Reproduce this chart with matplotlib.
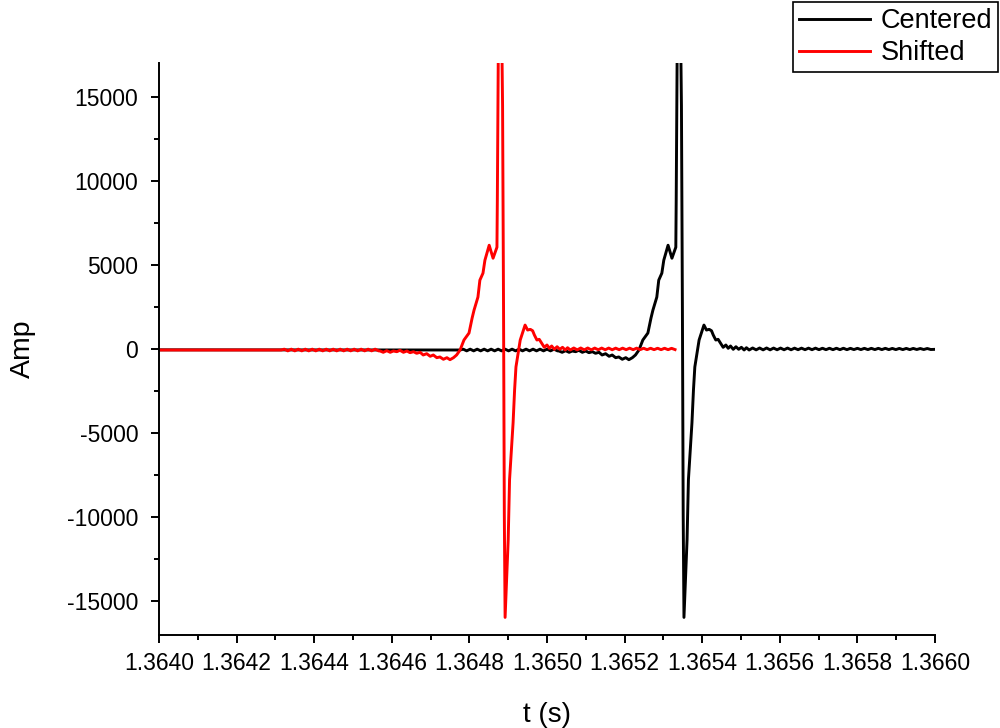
import numpy as np
import matplotlib.pyplot as plt
from matplotlib.ticker import MultipleLocator, FormatStrFormatter

plt.rcParams['font.family'] = ['Liberation Sans', 'DejaVu Sans']
plt.rcParams['axes.unicode_minus'] = False

# time offsets in microseconds from t0, amplitude in counts
t0 = 1.3640
centered_t_us = [
    0, 461, 776,
    784, 793, 802, 811, 820, 829, 838, 847, 856, 865, 874, 883, 892, 901,
    910, 919, 928, 937, 946, 955, 964, 973, 982, 991, 1000, 1009, 1018, 1027,
    1031, 1039, 1048, 1057, 1065, 1074, 1082, 1091, 1100, 1108, 1117, 1125,
    1134, 1142, 1151, 1160, 1168, 1177, 1185, 1194, 1203, 1211, 1220, 1228,
    1237, 1247, 1260, 1268, 1273, 1283, 1288, 1296, 1301, 1312, 1322, 1332,
    1333, 1335, 1336, 1344, 1346.5, 1349, 1351, 1353, 1361, 1364.5, 1373.6,
    1377.5, 1381, 1392, 1404.5, 1411, 1418, 1424, 1428.5, 1435, 1441, 1447.5,
    1454, 1461, 1467, 1473, 1480, 1487, 1494, 1501, 1508, 1514, 1521,
    1530, 1539, 1548, 1557, 1566, 1575, 1584, 1593, 1602, 1611, 1620, 1629,
    1638, 1647, 1656, 1665, 1674, 1683, 1692, 1701, 1710, 1719, 1728, 1737,
    1746, 1755, 1764, 1773, 1782, 1791, 1800, 1809, 1818, 1827, 1836, 1845,
    1854, 1863, 1872, 1881, 1890, 1899, 1908, 1917, 1926, 1935, 1944, 1953,
    1962, 1971, 1980, 1989, 2000,
]
centered_amp = [
    -50, -59, -59,
    -10, -110, -10, -110, -10, -110, -10, -110, -10, -110, -10, -110, -10, -110,
    -10, -110, -10, -110, -10, -110, -10, -110, -10, -110, -10, -110, -10, -110,
    -119, -196, -101, -196, -119, -160, -77, -196, -119, -219, -160, -255,
    -196, -356, -279, -433, -356, -516, -474, -611, -516, -635, -516, -356,
    -59, 534, 949, 1838, 2313, 3084, 4092, 4507, 5278, 6167, 5396, 6049,
    8836, 16070, 19500, 19500, 14470, 2313, -9844, -15952, -11326, -7768, -4388,
    -2431, -1067, 534, 1423, 1127, 1168, 1085, 830, 534, 575, 338,
    101, 237, 42, 178, -18, 136, -18, 101, -59, 77, -59,
    60, -50, 60, -50, 60, -50, 55, -45, 55, -45, 55, -45,
    50, -40, 50, -40, 50, -40, 50, -40, 45, -40, 45, -40,
    45, -40, 45, -40, 40, -35, 40, -35, 40, -35, 40, -35,
    40, -35, 40, -35, 35, -35, 35, -35, 35, -35, 35, -30,
    30, -30, 30, -30, -20,
]
shift_us = 461
shift_end_us = 1796

t_us = np.array(centered_t_us, dtype=float)
amp = np.array(centered_amp, dtype=float)
t_c = t0 + t_us * 1e-6

keep = (t_us >= shift_us) & (t_us <= shift_end_us)
t_s = t0 + (t_us[keep] - shift_us) * 1e-6
amp_s = amp[keep]

fig = plt.figure(figsize=(10, 7.28), dpi=100)
ax = fig.add_axes([0.159, 0.1277, 0.776, 0.7858])

ax.plot(t_c, amp, color='black', lw=2.1, label='Centered')
ax.plot(t_s, amp_s, color='#ff0000', lw=2.1, label='Shifted')

ax.set_xlim(1.3640, 1.3660)
ax.set_ylim(-17000, 17000)
ax.xaxis.set_major_locator(MultipleLocator(0.0002))
ax.xaxis.set_minor_locator(MultipleLocator(0.0001))
ax.xaxis.set_major_formatter(FormatStrFormatter('%.4f'))
ax.yaxis.set_major_locator(MultipleLocator(5000))
ax.yaxis.set_minor_locator(MultipleLocator(2500))

for side in ['top', 'right']:
    ax.spines[side].set_visible(False)
for side in ['left', 'bottom']:
    ax.spines[side].set_linewidth(1.4)

ax.tick_params(which='major', direction='out', length=6, width=1.4,
               labelsize=16.5, pad=6)
ax.tick_params(axis='y', which='major', pad=9)
ax.tick_params(which='minor', direction='out', length=3.5, width=1.4)

ax.set_xlabel('t (s)', fontsize=20, labelpad=20)
ax.set_ylabel('Amp', fontsize=20.5, labelpad=22)

leg = fig.legend(loc='upper right', bbox_to_anchor=(0.998, 0.997),
                 fontsize=19.5, frameon=True, fancybox=False,
                 handlelength=2.6, handletextpad=0.4, labelspacing=0.22,
                 borderpad=0.22, borderaxespad=0)
leg.get_frame().set_edgecolor('black')
leg.get_frame().set_linewidth(1.2)
leg.get_frame().set_alpha(1)

fig.savefig('out.png', dpi=100)
